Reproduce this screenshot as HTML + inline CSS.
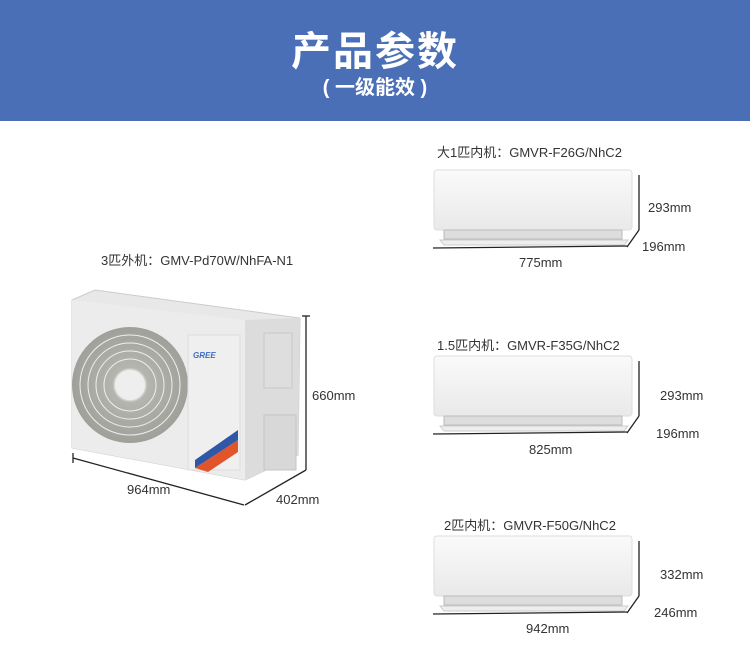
<!DOCTYPE html>
<html><head><meta charset="utf-8"><style>
body{margin:0;width:750px;height:664px;background:#fff;overflow:hidden;font-family:"Liberation Sans","Noto Sans CJK SC",sans-serif}
.hdr{position:absolute;left:0;top:0;width:750px;height:121px;background:#4a6fb6;color:#fff;text-align:center}
.t{position:absolute;font-size:13px;color:#333}
</style></head><body>
<div class="hdr"><div style="font-size:40px;font-weight:bold;padding-top:30px;line-height:44px;letter-spacing:2px">产品参数</div><div style="font-size:20px;line-height:28px;font-weight:bold">( 一级能效 )</div></div>
<svg width="750" height="664" style="position:absolute;left:0;top:0">
<defs><linearGradient id="g" x1="0" y1="0" x2="0" y2="1"><stop offset="0" stop-color="#fafafa"/><stop offset="1" stop-color="#e9e9e9"/></linearGradient>
<radialGradient id="f"><stop offset="0.25" stop-color="#e8e8e8"/><stop offset="0.3" stop-color="#b5b5b0"/><stop offset="1" stop-color="#a0a09a"/></radialGradient></defs>
<!-- outdoor -->
<polygon points="72,300 95,290 300,318 298,455 245,480 72,448" fill="#e8e8e8" stroke="#ccc"/>
<polygon points="72,300 245,320 245,480 72,448" fill="#ececec"/>
<polygon points="245,320 300,318 298,455 245,480" fill="#dcdcdc"/>
<circle cx="130" cy="385" r="58" fill="url(#f)"/>
<g stroke="#eee" stroke-width="1" fill="none">
<circle cx="130" cy="385" r="50"/><circle cx="130" cy="385" r="42"/><circle cx="130" cy="385" r="34"/><circle cx="130" cy="385" r="26"/>
</g>
<circle cx="130" cy="385" r="15" fill="#eee"/>
<rect x="188" y="335" width="52" height="135" fill="#efefef" stroke="#ddd"/>
<text x="193" y="358" font-size="8" fill="#3b6cc4" font-weight="bold" font-style="italic">GREE</text>
<polygon points="195,468 238,440 238,452 208,472" fill="#e2542a"/>
<polygon points="195,460 238,430 238,440 195,468" fill="#2e57a8"/>
<rect x="264" y="333" width="28" height="55" fill="#dedede" stroke="#c8c8c8"/>
<rect x="264" y="415" width="32" height="55" fill="#d8d8d8" stroke="#c4c4c4"/>
<g stroke="#222" stroke-width="1.3" fill="none">
<line x1="306" y1="316" x2="306" y2="470"/><line x1="302" y1="316" x2="310" y2="316"/>
<line x1="306" y1="470" x2="245" y2="505"/>
<line x1="73" y1="458" x2="244" y2="505"/><line x1="73" y1="453" x2="73" y2="463"/>
</g>
<!-- indoor units -->
<g id="u">
<rect x="434" y="170" width="198" height="60" rx="3" fill="url(#g)" stroke="#ddd"/>
<rect x="444" y="230" width="178" height="9" fill="#ddd" stroke="#bbb"/>
<polygon points="440,240 628,240 624,245 444,245" fill="#eee" stroke="#ccc"/>
<g stroke="#222" stroke-width="1.3" fill="none">
<line x1="639" y1="175" x2="639" y2="230"/><line x1="639" y1="230" x2="627" y2="247"/>
<line x1="433" y1="248" x2="627" y2="246"/></g>
</g>
<use href="#u" transform="translate(0,186)"/>
<use href="#u" transform="translate(0,366)"/>
</svg>
<div class="t" style="left:101px;top:250px">3匹外机：GMV-Pd70W/NhFA-N1</div>
<div class="t" style="left:312px;top:388px">660mm</div>
<div class="t" style="left:127px;top:482px">964mm</div>
<div class="t" style="left:276px;top:492px">402mm</div>
<div class="t" style="left:437px;top:142px">大1匹内机：GMVR-F26G/NhC2</div>
<div class="t" style="left:648px;top:200px">293mm</div>
<div class="t" style="left:642px;top:239px">196mm</div>
<div class="t" style="left:519px;top:255px">775mm</div>
<div class="t" style="left:437px;top:335px">1.5匹内机：GMVR-F35G/NhC2</div>
<div class="t" style="left:660px;top:388px">293mm</div>
<div class="t" style="left:656px;top:426px">196mm</div>
<div class="t" style="left:529px;top:442px">825mm</div>
<div class="t" style="left:444px;top:515px">2匹内机：GMVR-F50G/NhC2</div>
<div class="t" style="left:660px;top:567px">332mm</div>
<div class="t" style="left:654px;top:605px">246mm</div>
<div class="t" style="left:526px;top:621px">942mm</div>
</body></html>
